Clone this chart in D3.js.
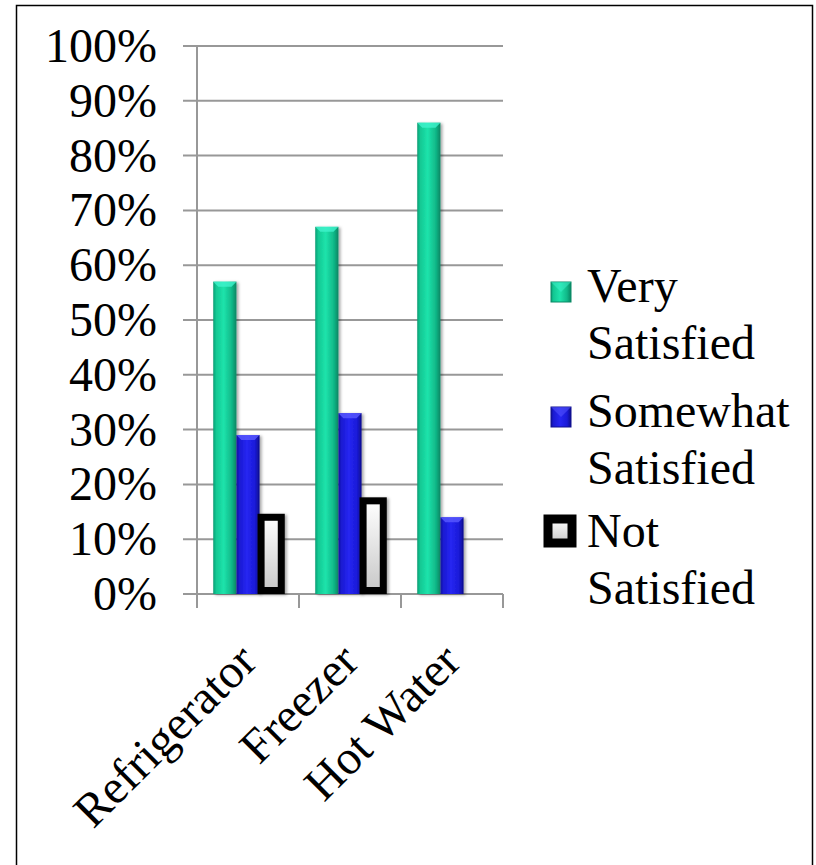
<!DOCTYPE html>
<html>
<head>
    <script src="https://cdn.jsdelivr.net/npm/d3@7"></script>
    <style>
        body {
            margin: 0;
            padding: 0;
            background-color: white;
        }
    </style>
</head>
<body>
    <div id="chart"></div>

    <script>
        // chart values
        const categories = ["Refrigerator", "Freezer", "Hot Water"];
        const seriesNames = ["Very Satisfied", "Somewhat Satisfied", "Not Satisfied"];
        const verySatisfied = [57, 67, 86];
        const somewhatSatisfied = [29, 33, 14];
        const notSatisfied = [14, 17, 0];
        const tickValues = [0, 10, 20, 30, 40, 50, 60, 70, 80, 90, 100];
        const legendLines = [["Very", "Satisfied"], ["Somewhat", "Satisfied"], ["Not", "Satisfied"]];

        const seriesValues = [verySatisfied, somewhatSatisfied, notSatisfied];
        const FONT = "'Liberation Serif', 'Times New Roman', Times, 'DejaVu Serif', serif";

        const width = 816;
        const height = 865;

        const svg = d3.select("#chart")
            .append("svg")
            .attr("width", width)
            .attr("height", height);

        const defs = svg.append("defs");

        function hGradient(id, stops) {
            const g = defs.append("linearGradient")
                .attr("id", id)
                .attr("x1", "0%").attr("x2", "100%")
                .attr("y1", "0%").attr("y2", "0%");
            stops.forEach(s => g.append("stop").attr("offset", s[0]).attr("stop-color", s[1]));
        }

        hGradient("gradGreen", [["0%", "#0a9c74"], ["12%", "#12c792"], ["45%", "#1ee3ab"], ["80%", "#10b888"], ["100%", "#088562"]]);
        hGradient("gradBlue", [["0%", "#10109a"], ["12%", "#1a1ad0"], ["45%", "#2626f2"], ["80%", "#1a1ad8"], ["100%", "#0c0c8a"]]);

        const gw = defs.append("linearGradient")
            .attr("id", "gradWhite")
            .attr("x1", "0%").attr("x2", "0%")
            .attr("y1", "0%").attr("y2", "100%");
        gw.append("stop").attr("offset", "0%").attr("stop-color", "#ffffff");
        gw.append("stop").attr("offset", "100%").attr("stop-color", "#c8c8c8");

        const shadow = defs.append("filter")
            .attr("id", "shadow")
            .attr("x", "-20%").attr("y", "-10%")
            .attr("width", "160%").attr("height", "130%");
        shadow.append("feDropShadow")
            .attr("dx", 2).attr("dy", 1)
            .attr("stdDeviation", 1.5)
            .attr("flood-color", "#000")
            .attr("flood-opacity", 0.35);

        const fills = ["url(#gradGreen)", "url(#gradBlue)", "url(#gradWhite)"];
        const capColors = ["#40f2cc", "#5a5aff", "#555555"];

        // outer frame
        svg.append("rect")
            .attr("x", 16.5)
            .attr("y", 5.5)
            .attr("width", 796)
            .attr("height", 870)
            .attr("fill", "none")
            .attr("stroke", "black")
            .attr("stroke-width", 1.5);

        const plotLeft = 197;
        const plotRight = 503;
        const plotTop = 46;
        const plotBottom = 594;

        const yScale = d3.scaleLinear()
            .domain([0, 100])
            .range([plotBottom, plotTop]);

        const xScale = d3.scaleBand()
            .domain(categories)
            .range([plotLeft, plotRight])
            .padding(0);

        const xInner = d3.scaleBand()
            .domain(seriesNames)
            .range([0, xScale.bandwidth()])
            .paddingInner(0)
            .paddingOuter(0.7);

        // gridlines
        svg.append("g")
            .selectAll("line")
            .data(tickValues)
            .enter()
            .append("line")
            .attr("x1", plotLeft - 14)
            .attr("x2", plotRight)
            .attr("y1", d => yScale(d))
            .attr("y2", d => yScale(d))
            .attr("stroke", "#989898")
            .attr("stroke-width", 2);

        // y axis line
        svg.append("line")
            .attr("x1", plotLeft)
            .attr("x2", plotLeft)
            .attr("y1", plotTop)
            .attr("y2", plotBottom)
            .attr("stroke", "#989898")
            .attr("stroke-width", 2);

        // category ticks
        const catTicks = categories.map(c => xScale(c)).concat([plotRight]);
        svg.append("g")
            .selectAll("line")
            .data(catTicks)
            .enter()
            .append("line")
            .attr("x1", d => d)
            .attr("x2", d => d)
            .attr("y1", plotBottom)
            .attr("y2", plotBottom + 14)
            .attr("stroke", "#989898")
            .attr("stroke-width", 2);

        // y tick labels
        svg.append("g")
            .selectAll("text")
            .data(tickValues)
            .enter()
            .append("text")
            .attr("x", 157)
            .attr("y", d => yScale(d) + 16)
            .attr("text-anchor", "end")
            .attr("font-family", FONT)
            .attr("font-size", 48)
            .text(d => d + "%");

        // bars
        const barData = [];
        categories.forEach((c, i) => {
            seriesNames.forEach((s, j) => {
                barData.push({ cat: c, series: s, idx: j, value: seriesValues[j][i] });
            });
        });

        const bars = svg.append("g")
            .selectAll("g")
            .data(barData.filter(d => d.value > 0))
            .enter()
            .append("g")
            .attr("filter", "url(#shadow)");

        bars.append("rect")
            .attr("x", d => xScale(d.cat) + xInner(d.series) + (d.idx === 2 ? 1.5 : 0))
            .attr("y", d => yScale(d.value))
            .attr("width", d => xInner.bandwidth() - (d.idx === 2 ? 3 : 0))
            .attr("height", d => plotBottom - yScale(d.value) - (d.idx === 2 ? 3.5 : 0))
            .attr("fill", d => fills[d.idx])
            .attr("stroke", d => d.idx === 2 ? "black" : "none")
            .attr("stroke-width", 7);

        // bevel cap on top of each bar
        bars.filter(d => d.idx !== 2)
            .append("path")
            .attr("d", d => {
                const x0 = xScale(d.cat) + xInner(d.series);
                const x1 = x0 + xInner.bandwidth();
                const y0 = yScale(d.value);
                return `M${x0},${y0} L${x1},${y0} L${x1 - 5},${y0 + 5} L${x0 + 5},${y0 + 5} Z`;
            })
            .attr("fill", d => capColors[d.idx])
            .attr("opacity", 0.8);

        // category labels
        svg.append("g")
            .selectAll("text")
            .data(categories)
            .enter()
            .append("text")
            .attr("text-anchor", "end")
            .attr("transform", d => `translate(${xScale(d) + xScale.bandwidth() / 2 + 11},${plotBottom + 70}) rotate(-45)`)
            .attr("font-family", FONT)
            .attr("font-size", 48)
            .text(d => d);

        // legend
        const legendBase = [302, 427, 547];
        const legend = svg.append("g")
            .selectAll("g")
            .data(seriesNames)
            .enter()
            .append("g");

        legend.append("rect")
            .attr("x", (d, i) => i === 2 ? 548 : 551)
            .attr("y", (d, i) => i === 2 ? legendBase[i] - 28 : legendBase[i] - 20)
            .attr("width", (d, i) => i === 2 ? 24 : 20)
            .attr("height", (d, i) => i === 2 ? 24 : 20)
            .attr("fill", (d, i) => fills[i])
            .attr("stroke", (d, i) => i === 2 ? "black" : (i === 0 ? "#0a8a66" : "#101090"))
            .attr("stroke-width", (d, i) => i === 2 ? 9 : 1);

        legend.filter((d, i) => i !== 2)
            .append("path")
            .attr("d", (d, i) => {
                const x0 = 551, x1 = 571, y0 = legendBase[i] - 20, y1 = legendBase[i];
                return `M${x0},${y0} L${x1},${y0} L${(x0 + x1) / 2},${(y0 + y1) / 2} Z`;
            })
            .attr("fill", (d, i) => capColors[i])
            .attr("opacity", 0.5);

        legend.each(function (d, i) {
            const g = d3.select(this);
            legendLines[i].forEach((line, k) => {
                g.append("text")
                    .attr("x", 587)
                    .attr("y", legendBase[i] + k * 57)
                    .attr("font-family", FONT)
                    .attr("font-size", 48)
                    .text(line);
            });
        });
    </script>
</body>
</html>
